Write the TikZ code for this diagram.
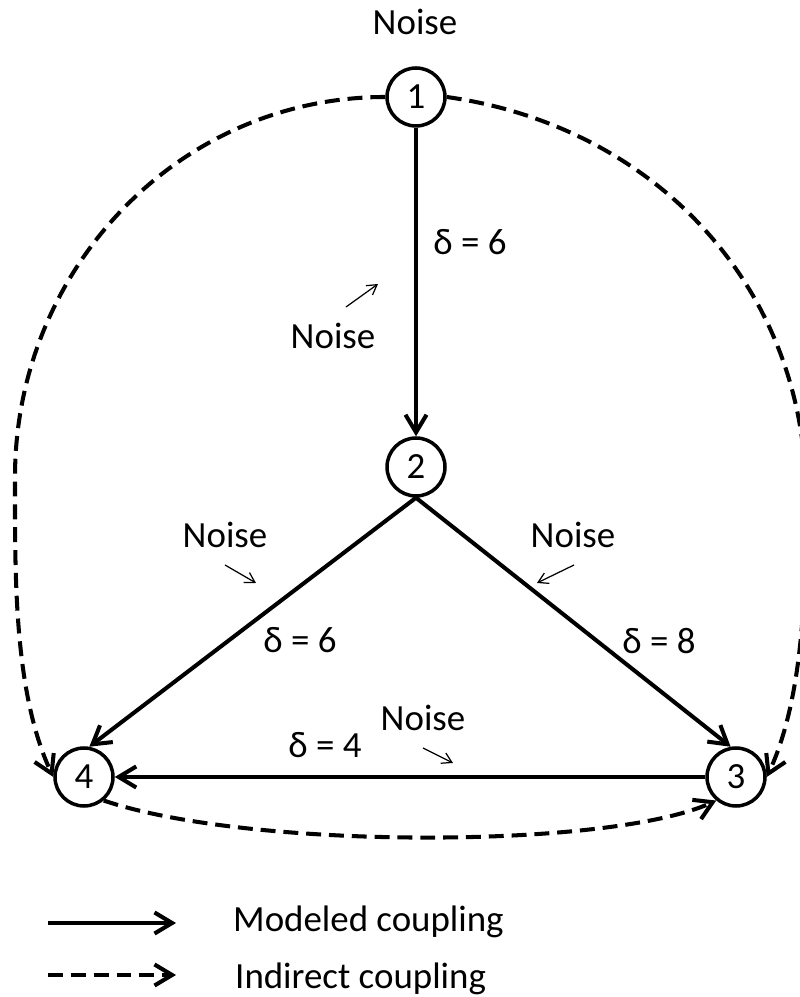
\documentclass[tikz,border=0pt]{standalone}
\usepackage{fontspec}
\setmainfont{Carlito}
\usetikzlibrary{arrows.meta,positioning}

\tikzset{
  osc/.style={circle, draw, line width=2pt, minimum size=1.16cm, inner sep=0pt},
  modeled/.style={line width=2.3pt, -{Straight Barb[length=10pt,width=12pt]}},
  indirect/.style={line width=2.3pt, dash pattern=on 8.5pt off 4.5pt,
    -{Straight Barb[length=10pt,width=12pt]}},
  noisearrow/.style={line width=0.7pt, -{Straight Barb[length=5.5pt,width=6.5pt]}},
}

\begin{document}
\begin{tikzpicture}[x=0.02cm, y=0.02cm, font=\fontsize{21}{25}\selectfont]
      \useasboundingbox (0,0) rectangle (799,997);
      % --- oscillators ---
      \node[osc] (n1) at (416,900) {1};
      \node[osc] (n2) at (416,530) {2};
      \node[osc] (n3) at (736,220) {3};
      \node[osc] (n4) at (84,220)  {4};
      % --- modeled couplings ---
      \draw[modeled] (n1) -- (n2);
      \draw[modeled] (n2.south) -- (n4.80);
      \draw[modeled] (n2.south) -- (n3.100);
      \draw[modeled] (n3) -- (n4);
      % coupling strengths
      \node (d12) at (470,755) {δ = 6};
      \node (d24) at (300,357) {δ = 6};
      \node (d23) at (659,356) {δ = 8};
      \node (d34) at (325,252) {δ = 4};
      % --- indirect couplings ---
      \coordinate (wl) at (15,520);
      \coordinate (wr) at (806,500);
      \draw[indirect] (n1.west) to[out=180,in=90] (wl)
        to[out=-90,in=115,looseness=0.8] (n4.west);
      \draw[indirect] (n1.east) to[out=-8,in=90] (wr)
        to[out=-90,in=65,looseness=0.8] (n3.east);
      \draw[indirect] (n4.-50) .. controls (250,147) and (610,148) .. (n3.230);
      % --- noise inputs ---
      \node (z1)  at (415,975) {Noise};
      \node (z12) at (333,661) {Noise};
      \node (z24) at (225,462) {Noise};
      \node (z23) at (573,462) {Noise};
      \node (z34) at (423,279) {Noise};
      \coordinate (a12) at (346,690); \coordinate (b12) at (378,713);
      \coordinate (a24) at (225,432); \coordinate (b24) at (256,414);
      \coordinate (a23) at (574,432); \coordinate (b23) at (537,414);
      \coordinate (a34) at (423,249); \coordinate (b34) at (453,234);
      \foreach \e in {12,24,23,34}{
        \draw[noisearrow] (a\e) -- (b\e);
      }
      % --- legend ---
      \coordinate (ms) at (48,74);  \coordinate (me) at (176,74);
      \coordinate (is) at (48,22);  \coordinate (ie) at (176,22);
      \draw[modeled]  (ms) -- (me);
      \draw[indirect] (is) -- (ie);
      \node[anchor=base west] (lm) at (227,65) {Modeled coupling};
      \node[anchor=base west] (li) at (229,9)  {Indirect coupling};
\end{tikzpicture}
\end{document}
